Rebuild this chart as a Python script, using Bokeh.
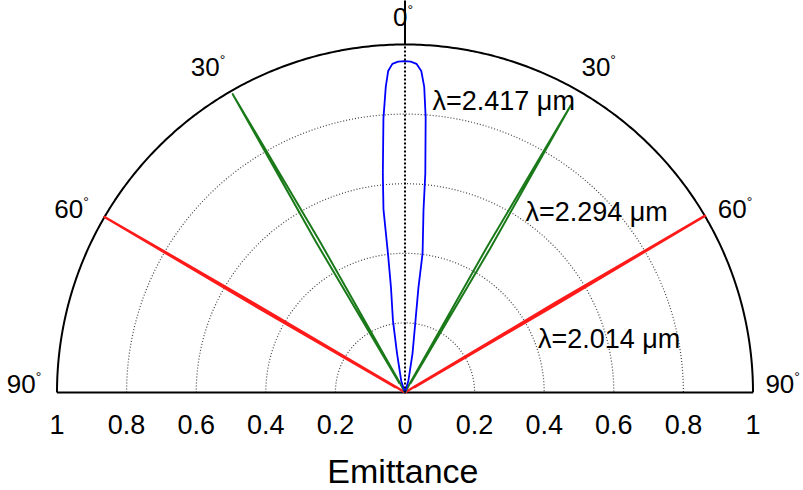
import numpy as np
from bokeh.plotting import figure
from bokeh.models import ColumnDataSource, Range1d
from bokeh.core.properties import value
from bokeh.embed import file_html
from bokeh.resources import INLINE

# ---------------- data ----------------
# angle from surface normal (deg, + to the right) and emittance
blue_theta = [-30, -18, -11.5, -9.5, -7.6, -7.0, -6.7, -5.8, -4.5, -3.6, -3.0, -2.2, -1.2, 0, 1.0, 2.0, 2.9, 3.6, 4.3, 5.3, 5.8, 7.2, 7.3, 8.3, 10.9, 16, 30]
blue_r = [0.0, 0.035, 0.115, 0.21, 0.305, 0.40, 0.53, 0.63, 0.79, 0.88, 0.925, 0.945, 0.951, 0.952, 0.951, 0.945, 0.925, 0.88, 0.792, 0.632, 0.526, 0.403, 0.304, 0.209, 0.114, 0.036, 0.0]

green_theta = [-31.5, -30.6, -30.0, -29.4, -28.5, 0, 28.5, 29.4, 30.0, 30.6, 31.5]
green_r = [0.03, 0.5, 0.99, 0.5, 0.03, 0.0, 0.03, 0.48, 0.953, 0.48, 0.03]

red_theta = [-60.8, -60.0, -59.7, -59.4, -58.6, 0, 58.6, 59.2, 59.5, 59.8, 60.4]
red_r = [0.03, 0.5, 1.0, 0.5, 0.03, 0.0, 0.03, 0.5, 1.0, 0.5, 0.03]

series_labels = ["λ=2.417 μm", "λ=2.294 μm", "λ=2.014 μm"]

grid_radii = [0.2, 0.4, 0.6, 0.8]
tick_values = [-1, -0.8, -0.6, -0.4, -0.2, 0, 0.2, 0.4, 0.6, 0.8, 1]
tick_labels = ["1", "0.8", "0.6", "0.4", "0.2", "0", "0.2", "0.4", "0.6", "0.8", "1"]
angle_ticks = [-90, -60, -30, 0, 30, 60, 90]
angle_labels = ["90", "60", "30", "0", "30", "60", "90"]
xlabel = "Emittance"

# ---------------- helpers ----------------
def pol(theta_deg, r):
    t = np.radians(np.asarray(theta_deg, dtype=float))
    r = np.asarray(r, dtype=float)
    return r * np.sin(t), r * np.cos(t)

FONT = "Liberation Sans"
W, H = 803, 490
SCALE = 348.0
cx_px, cy_px = 404.5, 392.0

p = figure(width=W, height=H, output_backend="svg", toolbar_location=None,
           min_border=0, outline_line_color=None,
           x_range=Range1d(-cx_px / SCALE, (W - cx_px) / SCALE),
           y_range=Range1d(-(H - cy_px) / SCALE, cy_px / SCALE))
p.axis.visible = False
p.grid.visible = False
p.background_fill_color = "white"
p.border_fill_color = "white"

# dotted grid semicircles
phi = np.linspace(-90, 90, 361)
for rr in grid_radii:
    gx, gy = pol(phi, np.full_like(phi, rr))
    p.line(gx, gy, line_color="#444444", line_width=1.2, line_dash="1 2")

# outer circle and baseline
ox, oy = pol(phi, np.ones_like(phi))
p.line(ox, oy, line_color="black", line_width=2)
p.line([-1, 1], [0, 0], line_color="black", line_width=2)

# curves
for th, rr, col, lw in [(red_theta, red_r, "#ff1a1a", 2.4),
                        (green_theta, green_r, "#1a7a1a", 2.0),
                        (blue_theta, blue_r, "#0000ff", 1.8)]:
    x, y = pol(th, rr)
    p.line(x, y, line_color=col, line_width=lw, line_join="round")

# 0-degree spoke: dotted inside, solid outside
p.line([0, 0], [0, 1], line_color="black", line_width=2, line_dash="2 2")
p.line([0, 0], [1, 1.2], line_color="black", line_width=2)

# angle labels
lab_r = 1.09
shift = {-90: 0.0, -60: -1.0, -30: -1.0, 0: 0.0, 30: 1.0, 60: 1.0, 90: 0.0}
ax_, ay_ = pol([a + shift[a] for a in angle_ticks], [lab_r] * len(angle_ticks))
ticks_arr = np.array(angle_ticks)
ay_ = np.where(np.abs(ticks_arr) == 90, 0.023, ay_)
ay_ = np.where(ticks_arr == 0, 1.078, ay_)
num_w = [len(s) * 15.0 for s in angle_labels]
src_ang = ColumnDataSource(dict(x=ax_, y=ay_, t=angle_labels,
                                xo=[(w + 10) / 2 - 10 for w in num_w],
                                deg=["°"] * len(angle_labels)))
p.text(x="x", y="y", text="t", source=src_ang, text_font=value(FONT),
       text_font_size="26px", text_align="right", text_baseline="middle",
       x_offset="xo", text_color="black")
p.text(x="x", y="y", text="deg", source=src_ang, text_font=value(FONT),
       text_font_size="14px", text_align="left", text_baseline="middle",
       x_offset="xo", y_offset=-7, text_color="black")

# radial tick labels
p.text(x=tick_values, y=[-0.092] * len(tick_values), text=tick_labels,
       text_font=value(FONT), text_font_size="27px", text_align="center",
       text_baseline="middle", text_color="black")

# axis title
p.text(x=[-0.006], y=[-0.226], text=[xlabel], text_font=value(FONT),
       text_font_size="34px", text_align="center", text_baseline="middle",
       text_color="black")

# series labels
lab_x = [0.079, 0.346, 0.382]
lab_y = [0.839, 0.52, 0.155]
p.text(x=lab_x, y=lab_y, text=series_labels, text_font=value(FONT),
       text_font_size="27px", text_align="left", text_baseline="middle",
       text_color="black")

open("out.html", "w").write(file_html(p, INLINE))
